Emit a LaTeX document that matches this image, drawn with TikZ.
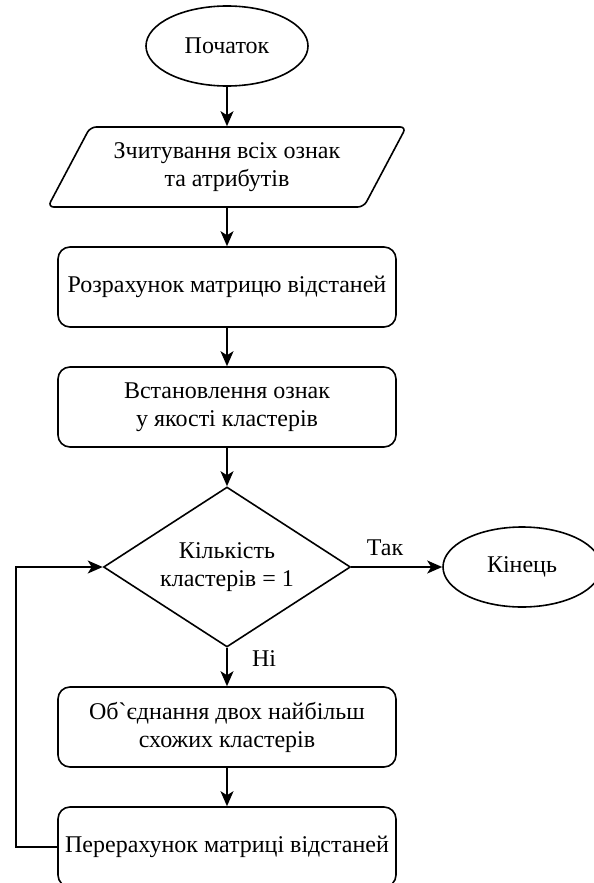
\documentclass[tikz,border=0pt]{standalone}
\usepackage{fontspec}
\setmainfont{Liberation Serif}
\usetikzlibrary{shapes.geometric,arrows.meta}

\tikzset{
  base/.style={draw, line width=1.6pt, align=center, font=\fontsize{24}{28}\selectfont},
  startstop/.style={base, ellipse, minimum width=162pt, minimum height=80pt, inner sep=0pt},
  io/.style={base, trapezium, trapezium left angle=57, trapezium right angle=123,
    trapezium stretches=true, minimum width=359pt, minimum height=80pt, rounded corners=6pt},
  process/.style={base, rectangle, rounded corners=12pt, minimum width=338pt, minimum height=80pt},
  decision/.style={base, diamond, aspect=1.54, minimum width=247pt, minimum height=160pt, inner sep=0pt},
  lbl/.style={font=\fontsize{24}{28}\selectfont, anchor=base},
  arr/.style={-{Stealth[length=15pt,width=13pt,inset=4pt]}, line width=1.6pt},
}

\begin{document}
\begin{tikzpicture}[x=1pt,y=1pt]
        \useasboundingbox (0,0) rectangle (594,-883);
        \clip (0,0) rectangle (594,-883);

        % Main column
        \node[startstop] (start) at (227,-46) {Початок};
        \node[io] (read) at (227,-167) {Зчитування всіх ознак\\та атрибутів};
        \node[process] (dist) at (227,-287) {Розрахунок матрицю відстаней};
        \node[process] (init) at (227,-407) {Встановлення ознак\\у якості кластерів};
        \node[decision] (check) at (227,-567) {Кількість\\кластерів = 1};
        \node[process] (merge) at (227,-727) {Обˋєднання двох найбільш\\схожих кластерів};
        \node[process] (recalc) at (227,-847) {Перерахунок матриці відстаней};

        % End
        \node[startstop, minimum width=158pt] (stop) at (522,-567) {Кінець};

        % Branch labels
        \node[lbl] (yes) at (385,-555) {Так};
        \node[lbl] (no) at (264,-666) {Ні};

        % Arrows
        \draw[arr] (start) -- (read);
        \draw[arr] (read) -- (dist);
        \draw[arr] (dist) -- (init);
        \draw[arr] (init) -- (check);
        \draw[arr] (check) -- (stop);
        \draw[arr] (check) -- (merge);
        \draw[arr] (merge) -- (recalc);

        % Loop back
        \draw[arr] (recalc.west) -- ++(-41,0) |- (check.west);
    \end{tikzpicture}
\end{document}
